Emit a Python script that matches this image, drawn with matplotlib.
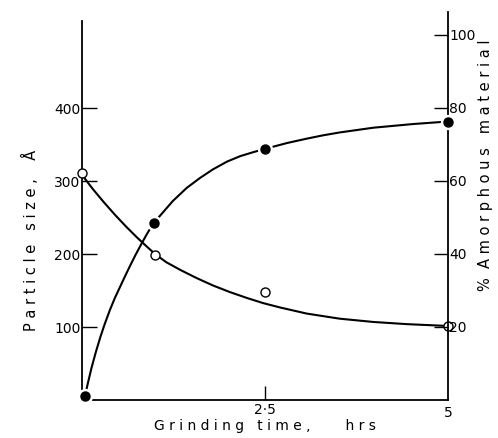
import numpy as np
import matplotlib.pyplot as plt

# valores
t_pts = [0.0, 1.0, 2.5, 5.0]
size_pts = [311, 199, 148, 102]           # Particle size (A), circulos abertos
t_am = [0.04, 0.98, 2.5, 5.0]
amorph_pts = [1, 48.5, 68.8, 76.3]        # % amorfo, circulos cheios

# curvas suaves lidas ponto a ponto
t_size_curve = [0.02, 0.15, 0.30, 0.45, 0.60, 0.75, 0.90, 1.0, 1.15, 1.35, 1.57, 1.79, 2.02,
                2.25, 2.47, 2.70, 3.07, 3.52, 3.98, 4.44, 5.0]
size_curve = [306, 289, 271, 254, 238, 223, 209, 200, 189, 178, 167, 157, 148,
              140, 133, 127, 118.5, 111.5, 107, 104, 101.5]
t_am_curve = [0.04, 0.08, 0.13, 0.19, 0.25, 0.31, 0.38, 0.45, 0.52, 0.59, 0.66, 0.73, 0.81,
              0.89, 0.98, 1.11, 1.24, 1.43, 1.61, 1.79, 1.98, 2.16, 2.34, 2.5, 2.8, 3.07,
              3.29, 3.52, 3.98, 4.52, 5.0]
am_curve = [1, 4.6, 8.8, 13.2, 17.2, 20.8, 24.6, 28.0, 31.0, 34.0, 36.9, 39.7, 42.7,
            45.6, 48.5, 51.5, 54.5, 58.1, 60.8, 63.2, 65.3, 66.8, 67.9, 68.8, 70.4, 71.6,
            72.5, 73.3, 74.6, 75.6, 76.3]

plt.rcParams['font.family'] = 'DejaVu Sans'

fig = plt.figure(figsize=(4.98, 4.38), dpi=100)
ax = fig.add_axes([82/498, 38/438, 366/498, 388/438])
ax2 = ax.twinx()

ax.set_xlim(0, 5)
ax.set_ylim(0, 532)
ax2.set_ylim(0, 106.3)

# curvas
ax.plot(t_size_curve, size_curve, color='black', lw=1.5, zorder=2, solid_joinstyle='round')
ax2.plot(t_am_curve, am_curve, color='black', lw=1.5, zorder=2, solid_joinstyle='round')

# pontos (com halo branco)
ax2.plot(t_am, amorph_pts, 'o', ms=10, color='white', zorder=3, clip_on=False)
ax2.plot(t_am, amorph_pts, 'o', ms=6.5, color='black', zorder=4, clip_on=False)
ax.plot(t_pts, size_pts, 'o', ms=6.5, mfc='white', mec='black', mew=1.0, zorder=4, clip_on=False)
ax2.set_zorder(ax.get_zorder() + 1)
ax2.patch.set_visible(False)

# eixos
for a in (ax, ax2):
    a.spines['top'].set_visible(False)
ax.spines['left'].set_bounds(0, 520)
ax2.spines['left'].set_visible(False)
ax2.spines['bottom'].set_visible(False)
ax.spines['right'].set_visible(False)
for s in ['left', 'bottom']:
    ax.spines[s].set_linewidth(1.3)
ax2.spines['right'].set_linewidth(1.3)

ax.set_xticks([2.5])
ax.set_xticklabels(['2·5'])
ax.set_yticks([100, 200, 300, 400])
ax.tick_params(axis='x', direction='in', length=10, width=1.0, labelsize=10, pad=2)
ax.tick_params(axis='y', direction='in', length=11, width=1.0, labelsize=10, pad=1)
ax2.set_yticks([20, 40, 60, 80, 100])
ax2.tick_params(axis='y', direction='in', length=10, width=1.0, labelsize=10, pad=1)
ax.text(5, -8, '5', ha='center', va='top', fontsize=10, transform=ax.transData)

fig.text(265/498, 1 - 426/438, 'G r i n d i n g   t i m e ,        h r s', ha='center', va='center', fontsize=10)
fig.text(30/498, 1 - 240/438, 'P a r t i c l e   s i z e ,    Å', ha='center', va='center', rotation=90, fontsize=10.5)
fig.text(485/498, 1 - 165/438, '%  A m o r p h o u s   m a t e r i a l', ha='center', va='center', rotation=90, fontsize=10.5)

fig.savefig('out.png', dpi=100)
